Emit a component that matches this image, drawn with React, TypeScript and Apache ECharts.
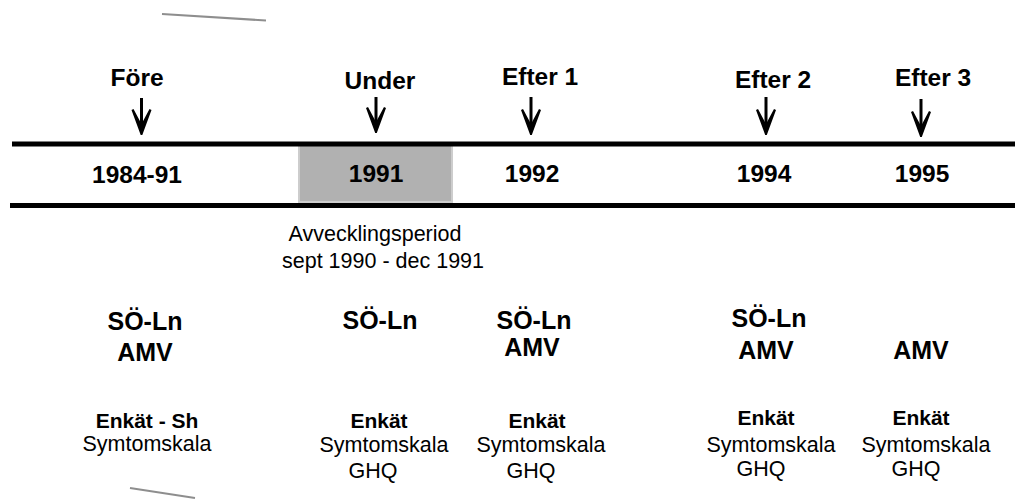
import React, { useEffect, useRef } from "react";
import * as echarts from "echarts";

// ---- content ----
const phases = ["Före", "Under", "Efter 1", "Efter 2", "Efter 3"];
const years = ["1984-91", "1991", "1992", "1994", "1995"];
const registers: (string | null)[][] = [
  ["SÖ-Ln", "AMV"],
  ["SÖ-Ln", null],
  ["SÖ-Ln", "AMV"],
  ["SÖ-Ln", "AMV"],
  [null, "AMV"],
];
const surveyTitles = ["Enkät - Sh", "Enkät", "Enkät", "Enkät", "Enkät"];
const surveyScales: string[][] = [
  ["Symtomskala"],
  ["Symtomskala", "GHQ"],
  ["Symtomskala", "GHQ"],
  ["Symtomskala", "GHQ"],
  ["Symtomskala", "GHQ"],
];
const periodNote = ["Avvecklingsperiod", "sept 1990 - dec 1991"];

// ---- layout (pixel positions) ----
const L = {
  phaseX: [137, 380, 540, 773, 933],
  phaseY: [77, 80.5, 76.5, 79.5, 77],
  arrowX: [141.5, 376, 531, 766, 921],
  arrowTop: [98, 97, 97, 97, 99],
  arrowTip: [135, 133, 135, 135, 137],
  yearX: [137, 376, 532, 764, 922],
  yearY: [174, 173, 173, 173.5, 173.5],
  regX: [[145, 145], [380, 380], [534, 532], [769, 766], [921, 921]],
  regY: [[320.5, 352], [320, 320], [319.5, 347], [318, 350], [350, 350]],
  titleX: [147, 379, 537, 766, 921],
  titleY: [420.5, 420.5, 420.5, 417.5, 417.5],
  scaleX: [[147], [384, 373], [541, 531], [771, 761], [926, 916]],
  scaleY: [[444], [444.5, 471], [444.5, 471], [444.5, 468.5], [444.5, 468.5]],
  noteX: [375, 383],
  noteY: [234, 261],
};

const FONT = "'Liberation Sans', Arial, sans-serif";

function txt(x: number, y: number, s: string, size: number, bold: boolean) {
  return {
    type: "text",
    x,
    y,
    silent: true,
    style: {
      text: s,
      fill: "#000",
      font: `${bold ? "bold " : ""}${size}px ${FONT}`,
      textAlign: "center",
      textVerticalAlign: "middle",
    },
  };
}

export default function App() {
  const ref = useRef<HTMLDivElement>(null);
  useEffect(() => {
    if (!ref.current) return;
    const chart = echarts.init(ref.current, undefined, { renderer: "svg" });
    const els: any[] = [];

    // decorative gray strokes
    els.push({
      type: "line",
      shape: { x1: 162, y1: 14, x2: 266, y2: 20.5 },
      style: { stroke: "#8e8e8e", lineWidth: 2 },
    });
    els.push({
      type: "line",
      shape: { x1: 130, y1: 488, x2: 195, y2: 498 },
      style: { stroke: "#8e8e8e", lineWidth: 2 },
    });

    // shaded year cell (under 1991)
    els.push({
      type: "rect",
      shape: { x: 299, y: 145, width: 153, height: 57 },
      style: { fill: "#b1b1b1", stroke: "#cdcdcd", lineWidth: 2 },
    });

    // timeline bars
    els.push({
      type: "rect",
      shape: { x: 12, y: 141.5, width: 1003, height: 5 },
      style: { fill: "#000" },
    });
    els.push({
      type: "rect",
      shape: { x: 10, y: 203, width: 1005, height: 5 },
      style: { fill: "#000" },
    });

    phases.forEach((p, i) => {
      els.push(txt(L.phaseX[i], L.phaseY[i], p, 24.5, true));
      const x = L.arrowX[i];
      const top = L.arrowTop[i];
      const tip = L.arrowTip[i];
      els.push({
        type: "line",
        shape: { x1: x, y1: top, x2: x, y2: tip - 8 },
        style: { stroke: "#000", lineWidth: 3 },
      });
      els.push({
        type: "polygon",
        shape: {
          points: [
            [x - 10, tip - 25],
            [x - 8, tip - 26],
            [x, tip - 11],
            [x + 8, tip - 26],
            [x + 10, tip - 25],
            [x + 0.8, tip],
            [x - 0.8, tip],
          ],
        },
        style: { fill: "#000" },
      });
    });

    years.forEach((y, i) => els.push(txt(L.yearX[i], L.yearY[i], y, 24.5, true)));

    periodNote.forEach((s, i) => els.push(txt(L.noteX[i], L.noteY[i], s, 21.5, false)));

    registers.forEach((col, i) =>
      col.forEach((s, j) => {
        if (s) els.push(txt(L.regX[i][j], L.regY[i][j], s, 25, true));
      })
    );

    surveyTitles.forEach((s, i) => els.push(txt(L.titleX[i], L.titleY[i], s, 21, true)));
    surveyScales.forEach((col, i) =>
      col.forEach((s, j) => els.push(txt(L.scaleX[i][j], L.scaleY[i][j], s, 21.5, false)))
    );

    chart.setOption({
      animation: false,
      backgroundColor: "#fff",
      graphic: { elements: els },
    });
    return () => chart.dispose();
  }, []);
  return (
    <div
      ref={ref}
      style={{ position: "fixed", left: 0, top: 0, width: 1015, height: 499 }}
    />
  );
}
